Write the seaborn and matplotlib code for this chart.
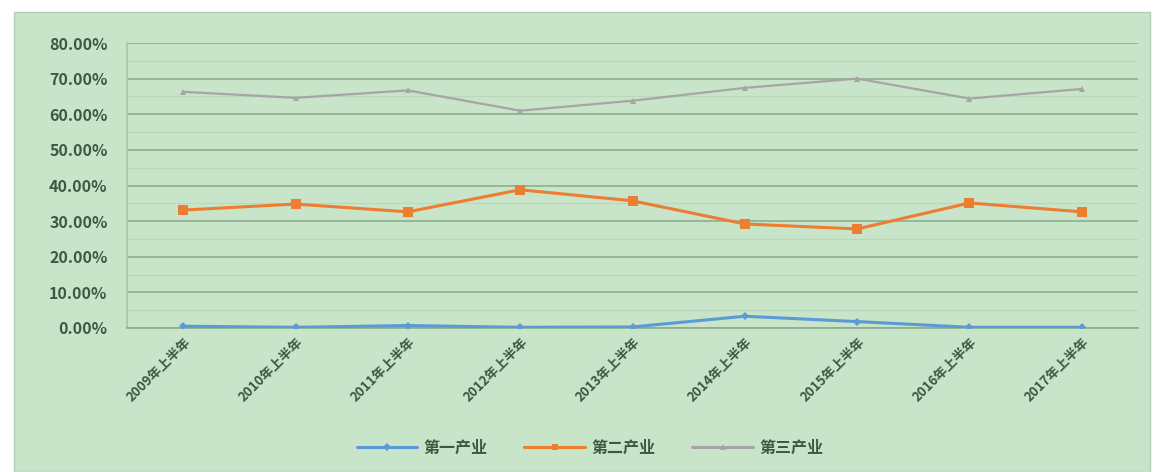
import pandas as pd
import matplotlib.pyplot as plt
import seaborn as sns
from matplotlib.patches import Rectangle
from matplotlib.ticker import PercentFormatter, MultipleLocator

# data (percent share)
periods = ['2009年上半年', '2010年上半年', '2011年上半年', '2012年上半年', '2013年上半年',
           '2014年上半年', '2015年上半年', '2016年上半年', '2017年上半年']
primary = [0.5, 0.2, 0.7, 0.2, 0.3, 3.3, 1.8, 0.2, 0.2]
secondary = [33.1, 34.8, 32.6, 38.8, 35.7, 29.2, 27.8, 35.1, 32.6]
tertiary = [66.3, 64.6, 66.7, 61.0, 63.8, 67.4, 70.0, 64.4, 67.1]
series_names = ['第一产业', '第二产业', '第三产业']

df = pd.DataFrame({'idx': range(len(periods)),
                   series_names[0]: primary,
                   series_names[1]: secondary,
                   series_names[2]: tertiary})
long_df = df.melt(id_vars='idx', var_name='产业', value_name='share')

sns.set_theme(style='white')
plt.rcParams['font.family'] = ['Noto Sans CJK SC', 'DejaVu Sans']

bg = '#c8e4c9'
grid_c = '#8daf90'
text_c = '#3a5a42'

fig = plt.figure(figsize=(11.53, 4.72), dpi=100)
fig.patch.set_facecolor('white')
fig.patches.append(Rectangle((14 / 1153, 0), 1 - 17 / 1153, 1 - 12 / 472,
                             transform=fig.transFigure, facecolor=bg,
                             edgecolor='#b5cdb6', lw=1, zorder=-10))

ax = fig.add_axes([127 / 1153, 1 - 328 / 472, (1138 - 127) / 1153, (328 - 43) / 472])
ax.set_facecolor(bg)

palette = {'第一产业': '#5b9bd5', '第二产业': '#ed7d31', '第三产业': '#a5a5a5'}
markers = {'第一产业': 'D', '第二产业': 's', '第三产业': '^'}
sns.lineplot(data=long_df, x='idx', y='share', hue='产业', style='产业',
             palette=palette, markers=markers, dashes=False, markersize=7,
             linewidth=2.2, markeredgewidth=0, ax=ax, legend=True, zorder=3)
# thinner grey line, smaller markers for blue and grey
for line, name in zip(ax.lines, series_names):
    if name == '第三产业':
        line.set_linewidth(1.6)
        line.set_markersize(5)
    if name == '第一产业':
        line.set_markersize(4.5)

ax.set_xlim(-0.5, len(periods) - 0.5)
ax.set_ylim(0, 80)
ax.yaxis.set_major_locator(MultipleLocator(10))
ax.yaxis.set_minor_locator(MultipleLocator(5))
ax.yaxis.set_major_formatter(PercentFormatter(decimals=2))
ax.grid(axis='y', which='major', color=grid_c, lw=1.2, zorder=0)
ax.grid(axis='y', which='minor', color='#bad7bc', lw=0.8, zorder=0)
ax.set_xticks(range(len(periods)))
ax.set_xticklabels(periods, rotation=45, ha='right', rotation_mode='anchor',
                   fontsize=9.5, fontweight='bold', color=text_c)
ax.tick_params(axis='y', labelsize=11.5, colors=text_c, length=0, pad=14)
ax.tick_params(axis='x', length=0, pad=5)
for t in ax.get_yticklabels():
    t.set_fontweight('bold')
for s in ['top', 'right']:
    ax.spines[s].set_visible(False)
ax.spines['left'].set_color('#a9c6aa')
ax.spines['bottom'].set_color(grid_c)
ax.set_xlabel('')
ax.set_ylabel('')

handles, labels = ax.get_legend_handles_labels()
for h in handles:
    h.set_markersize(4.5)
leg = ax.legend(handles, labels, loc='center', bbox_to_anchor=(0.458, -0.42), ncol=3,
                frameon=False, fontsize=11.5, handlelength=3.8, handletextpad=0.4,
                columnspacing=2.3)
for t in leg.get_texts():
    t.set_color(text_c)
    t.set_fontweight('bold')

fig.savefig('out.png', dpi=100, facecolor=fig.get_facecolor())
